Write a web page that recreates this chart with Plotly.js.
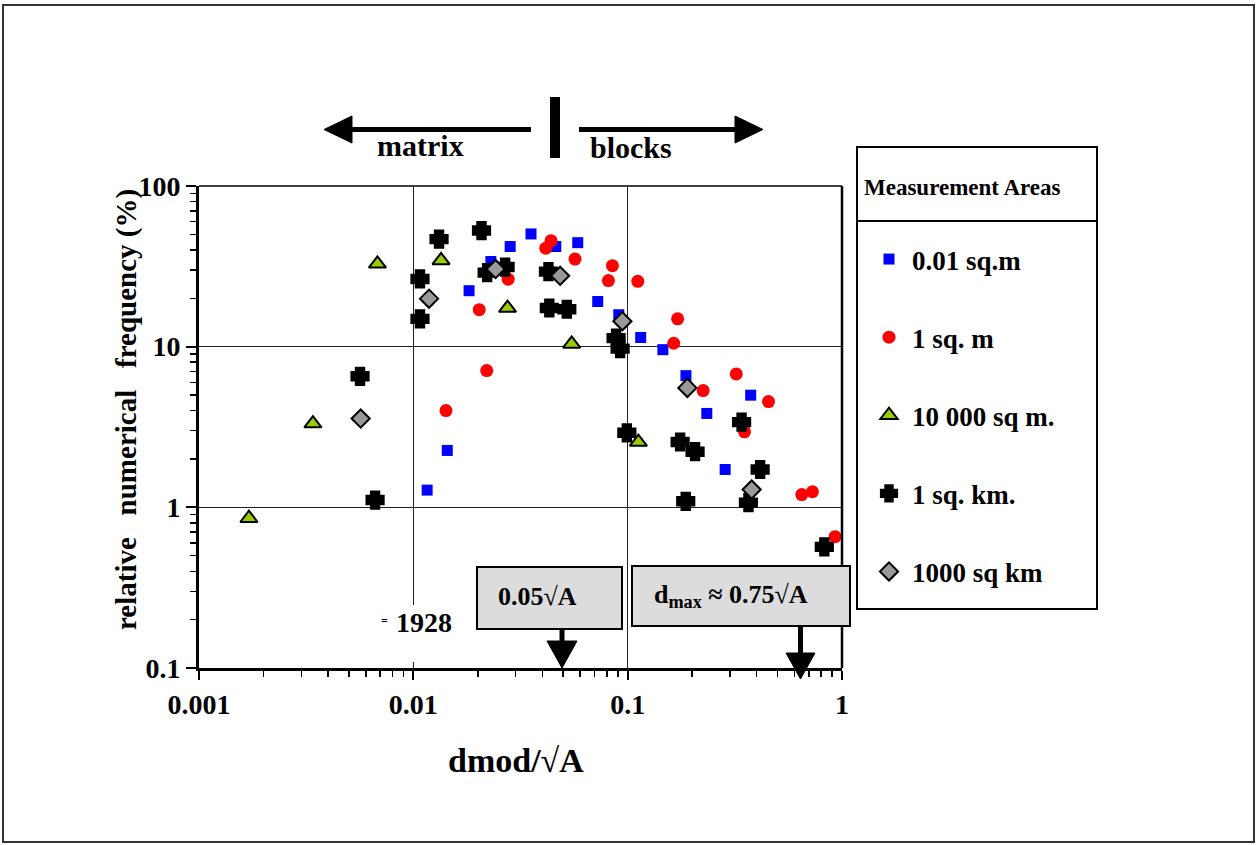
<!DOCTYPE html>
<html>
<head>
<meta charset="utf-8">
<script src="https://cdn.plot.ly/plotly-3.0.1.min.js"></script>
<style>
  html, body { margin: 0; padding: 0; background: #ffffff; }
  #chart { width: 1259px; height: 845px; }
</style>
</head>
<body>
<div id="chart"></div>
<script>
// ---------------- data ----------------
const seriesNames = ["0.01 sq.m", "1 sq. m", "10 000 sq m.", "1 sq. km.", "1000 sq km"];

const blueX = [0.0116, 0.0144, 0.0182, 0.0230, 0.0283, 0.0354, 0.0462, 0.0585, 0.0725, 0.0909, 0.115, 0.146, 0.187, 0.234, 0.285, 0.375];
const blueY = [1.28, 2.26, 22.3, 33.9, 42.0, 50.3, 42.0, 44.4, 19.1, 15.8, 11.4, 9.58, 6.60, 3.84, 1.72, 4.99];

const redX = [0.0142, 0.0203, 0.0220, 0.0277, 0.0415, 0.0439, 0.0568, 0.0813, 0.0849, 0.1115, 0.164, 0.171, 0.225, 0.321, 0.351, 0.454, 0.649, 0.728, 0.928];
const redY = [4.0, 17.0, 7.1, 26.3, 41.0, 45.7, 35.1, 25.8, 31.9, 25.5, 10.5, 14.9, 5.33, 6.77, 2.95, 4.55, 1.20, 1.25, 0.657];

const greenX = [0.00171, 0.0034, 0.0068, 0.01347, 0.0275, 0.0548, 0.1122];
const greenY = [0.855, 3.32, 32.8, 34.4, 17.4, 10.4, 2.55];

const blackX = [0.00564, 0.00663, 0.01074, 0.01074, 0.01318, 0.0208, 0.0221, 0.0268, 0.0427, 0.0431, 0.0520, 0.0883, 0.0922, 0.0991, 0.1757, 0.2063, 0.1866, 0.340, 0.415, 0.366, 0.827];
const blackY = [6.54, 1.11, 26.4, 14.9, 46.7, 52.8, 28.9, 31.3, 29.3, 17.4, 17.1, 11.3, 9.72, 2.91, 2.55, 2.22, 1.09, 3.39, 1.72, 1.07, 0.567];

const greyX = [0.00568, 0.01184, 0.0242, 0.0484, 0.0945, 0.190, 0.379];
const greyY = [3.57, 19.9, 30.4, 27.6, 14.4, 5.54, 1.29];

const xTickVals = [0.001, 0.01, 0.1, 1];
const xTickText = ["0.001", "0.01", "0.1", "1"];
const yTickVals = [0.1, 1, 10, 100];
const yTickText = ["0.1", "1", "10", "100"];

// ---------------- helpers ----------------
const W = 1259, H = 845;
const L = 199, R = 842, T = 186, B = 668;
const PW = R - L, PH = B - T;
const px = x => (x - L) / PW;
const py = y => (B - y) / PH;
const FONT = "Liberation Serif, 'Times New Roman', serif";

function minorTicks(lo, hi) {
  const out = [];
  for (let d = lo; d < hi; d++) {
    for (let k = 2; k <= 9; k++) out.push(k * Math.pow(10, d));
  }
  return out;
}
function tri(pts) {
  return "M " + pts.map(p => px(p[0]) + "," + py(p[1])).join(" L ") + " Z";
}

// ---------------- traces ----------------
const traces = [
  { x: blueX, y: blueY, name: seriesNames[0], legendgroup: "g1", mode: "markers", type: "scatter",
    marker: { symbol: "square", size: 11, color: "#0000ff", line: { width: 0 } } },
  { x: redX, y: redY, name: seriesNames[1], legendgroup: "g2", mode: "markers", type: "scatter",
    marker: { symbol: "circle", size: 13, color: "#ff0000", line: { width: 0 } } },
  { x: greenX, y: greenY, name: seriesNames[2], legendgroup: "g3", mode: "markers", type: "scatter",
    marker: { symbol: "triangle-up", size: 15, color: "#99cc00", line: { width: 2, color: "#000000" } } },
  { x: blackX, y: blackY, name: seriesNames[3], legendgroup: "g4", mode: "markers", type: "scatter",
    marker: { symbol: "cross", size: 11, color: "#000000", line: { width: 6, color: "#000000" } } },
  { x: greyX, y: greyY, name: seriesNames[4], legendgroup: "g5", mode: "markers", type: "scatter",
    marker: { symbol: "diamond", size: 14, color: "#999999", line: { width: 2, color: "#000000" } } }
];

// ---------------- shapes ----------------
const shapes = [
  // outer frame
  { type: "rect", xref: "paper", yref: "paper", x0: px(3), x1: px(1254), y0: py(842), y1: py(5),
    line: { color: "#333333", width: 2 }, fillcolor: "rgba(0,0,0,0)", layer: "below" },
  // plot top & right borders
  { type: "line", xref: "paper", yref: "paper", x0: 0, x1: 1, y0: 1, y1: 1, line: { color: "#000", width: 1.5 }, layer: "above" },
  { type: "line", xref: "paper", yref: "paper", x0: 1, x1: 1, y0: 0, y1: 1, line: { color: "#000", width: 2.5 }, layer: "above" },
  // white cover behind the "= 1928" label
  { type: "rect", xref: "paper", yref: "paper", x0: px(225), x1: px(460), y0: py(662), y1: py(605),
    line: { width: 0 }, fillcolor: "#ffffff", layer: "above" },
  // top arrows: matrix | blocks
  { type: "line", xref: "paper", yref: "paper", x0: px(350), x1: px(531), y0: py(129.5), y1: py(129.5), line: { color: "#000", width: 5 } },
  { type: "path", xref: "paper", yref: "paper", path: tri([[324, 129.5], [352, 116], [352, 143]]), fillcolor: "#000", line: { color: "#000", width: 1 } },
  { type: "rect", xref: "paper", yref: "paper", x0: px(550), x1: px(560), y0: py(158), y1: py(97), fillcolor: "#000", line: { width: 0 } },
  { type: "line", xref: "paper", yref: "paper", x0: px(579), x1: px(737), y0: py(129.5), y1: py(129.5), line: { color: "#000", width: 5 } },
  { type: "path", xref: "paper", yref: "paper", path: tri([[763, 129.5], [735, 116], [735, 143]]), fillcolor: "#000", line: { color: "#000", width: 1 } },
  // grey boxes
  { type: "rect", xref: "paper", yref: "paper", x0: px(477), x1: px(622), y0: py(629), y1: py(567),
    fillcolor: "#dcdcdc", line: { color: "#000", width: 2 }, layer: "above" },
  { type: "rect", xref: "paper", yref: "paper", x0: px(632), x1: px(850), y0: py(626), y1: py(566),
    fillcolor: "#dcdcdc", line: { color: "#000", width: 2 }, layer: "above" },
  // down arrows
  { type: "line", xref: "paper", yref: "paper", x0: px(562), x1: px(562), y0: py(630), y1: py(643), line: { color: "#000", width: 5 }, layer: "above" },
  { type: "path", xref: "paper", yref: "paper", path: tri([[547, 641], [577, 641], [562, 668]]), fillcolor: "#000", line: { color: "#000", width: 1 }, layer: "above" },
  { type: "line", xref: "paper", yref: "paper", x0: px(800.5), x1: px(800.5), y0: py(627), y1: py(655), line: { color: "#000", width: 5 }, layer: "above" },
  { type: "path", xref: "paper", yref: "paper", path: tri([[786, 653], [815, 653], [800.5, 679]]), fillcolor: "#000", line: { color: "#000", width: 1 }, layer: "above" },
  // legend box
  { type: "rect", xref: "paper", yref: "paper", x0: px(857), x1: px(1097), y0: py(609), y1: py(147),
    fillcolor: "rgba(0,0,0,0)", line: { color: "#000", width: 2 } },
  { type: "line", xref: "paper", yref: "paper", x0: px(857), x1: px(1097), y0: py(221), y1: py(221), line: { color: "#000", width: 2 } }
];

// ---------------- annotations ----------------
function ann(text, x, y, size, extra) {
  return Object.assign({ text: text, xref: "paper", yref: "paper", x: px(x), y: py(y),
    xanchor: "center", yanchor: "middle", showarrow: false,
    font: { family: FONT, size: size, color: "#000", weight: "bold" } }, extra || {});
}
const annotations = [
  ann("matrix", 420, 145, 30),
  ann("blocks", 631, 147, 30),
  ann("0.05√A", 537, 596, 26),
  ann("d<sub>max</sub> ≈ 0.75√A", 731, 596, 26),
  ann("=", 384, 621, 12),
  ann("1928", 424, 622, 28),
  ann("Measurement Areas", 862, 187, 23, { xanchor: "left" }),
  ann("dmod/√A", 516, 760, 34),
  ann("relative&nbsp;&nbsp;&nbsp;numerical&nbsp;&nbsp;&nbsp;frequency (%)", 126, 410, 29, { textangle: -90 })
];

// ---------------- layout ----------------
const axisFont = { family: FONT, size: 28, color: "#000", weight: "bold" };
const layout = {
  width: W, height: H,
  margin: { l: L, r: W - R, t: T, b: H - B, pad: 0 },
  paper_bgcolor: "#ffffff", plot_bgcolor: "#ffffff",
  showlegend: true,
  font: { family: FONT, color: "#000" },
  xaxis: {
    type: "log", range: [-3, 0], tickvals: xTickVals, ticktext: xTickText,
    ticks: "outside", ticklen: 9, tickwidth: 2, tickcolor: "#000",
    showline: true, linewidth: 3, linecolor: "#000",
    showgrid: true, gridcolor: "#222", gridwidth: 1, zeroline: false,
    tickfont: axisFont,
    minor: { tickvals: minorTicks(-3, 0), ticks: "outside", ticklen: 6, tickwidth: 1.5, tickcolor: "#000", showgrid: false }
  },
  yaxis: {
    type: "log", range: [-1, 2], tickvals: yTickVals, ticktext: yTickText,
    ticks: "outside", ticklen: 10, tickwidth: 2, tickcolor: "#000",
    showline: true, linewidth: 3, linecolor: "#000",
    showgrid: true, gridcolor: "#222", gridwidth: 1, zeroline: false,
    tickfont: axisFont,
    minor: { tickvals: minorTicks(-1, 2), ticks: "outside", ticklen: 6, tickwidth: 1.5, tickcolor: "#000", showgrid: false }
  },
  legend: {
    x: px(866), y: py(235), xanchor: "left", yanchor: "top",
    font: { family: FONT, size: 27, color: "#000", weight: "bold" },
    bgcolor: "rgba(0,0,0,0)", borderwidth: 0, tracegroupgap: 40, itemwidth: 36
  },
  shapes: shapes,
  annotations: annotations
};

Plotly.newPlot("chart", traces, layout, { displayModeBar: false, staticPlot: true });
</script>
</body>
</html>
